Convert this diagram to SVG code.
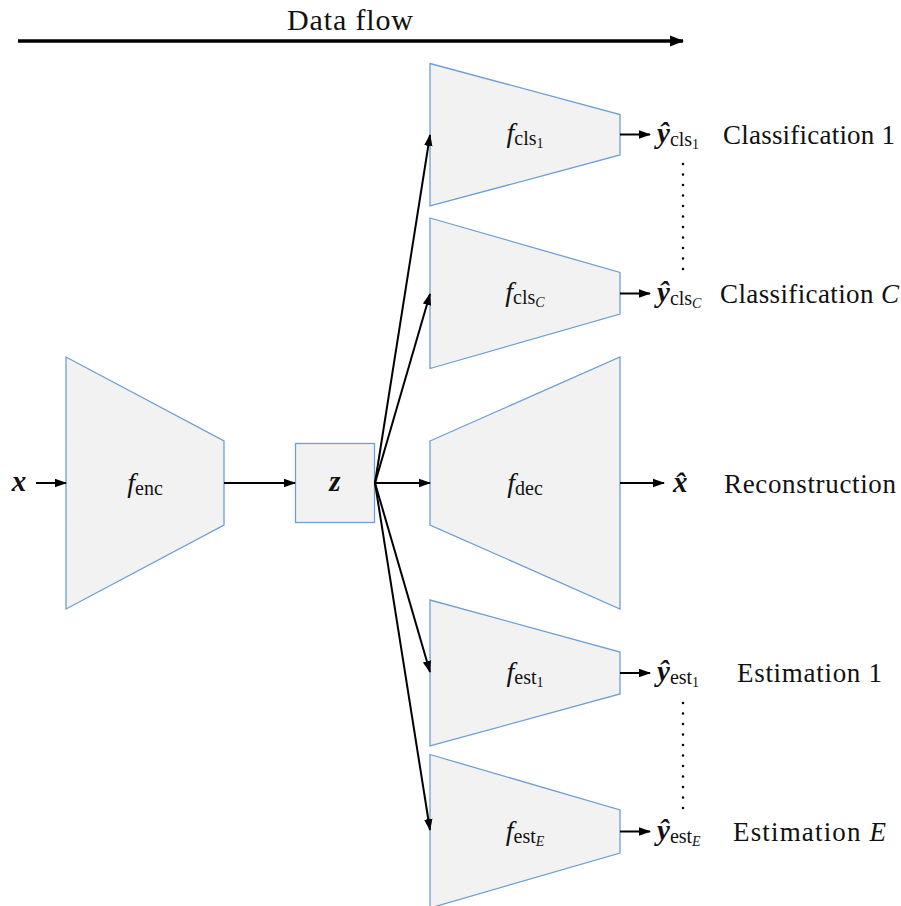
<svg xmlns="http://www.w3.org/2000/svg" width="901" height="906" viewBox="0 0 901 906">
  <defs>
    <marker id="arrow" viewBox="0 0 12 10" refX="11" refY="5" markerWidth="12" markerHeight="10" markerUnits="userSpaceOnUse" orient="auto">
      <path d="M0,0.8 L12,5 L0,9.2 Z" fill="#000"/>
    </marker>
    <marker id="arrowBig" viewBox="0 0 14 12" refX="13" refY="6" markerWidth="14" markerHeight="12" markerUnits="userSpaceOnUse" orient="auto">
      <path d="M0,0.5 L14,6 L0,11.5 Z" fill="#000"/>
    </marker>
  </defs>
  <style>
    .block { fill: #f2f2f2; stroke: #6f9fd3; stroke-width: 1.3; }
    .conn { stroke: #000; stroke-width: 2; fill: none; marker-end: url(#arrow); }
    .dots { stroke: #000; stroke-width: 2.6; stroke-linecap: round; stroke-dasharray: 0 10.5; fill: none; }
    text { font-family: "Liberation Serif", "Times New Roman", serif; fill: #111; }
    .rm { font-size: 27px; }
    .mi { font-style: italic; font-size: 28px; }
    .bi { font-style: italic; font-weight: bold; font-size: 29px; }
    .s1 { font-style: normal; font-weight: normal; font-size: 20px; }
    .s2 { font-style: normal; font-weight: normal; font-size: 14px; }
    .s2i { font-style: italic; font-weight: normal; font-size: 14px; }
  </style>

  <!-- direction of data flow -->
  <g id="dataflow">
    <text x="287" y="30" style="font-size:30px" textLength="126">Data flow</text>
    <line x1="18" y1="41" x2="683" y2="41" stroke="#000" stroke-width="3.4" marker-end="url(#arrowBig)"/>
  </g>

  <!-- input -->
  <g id="input">
    <text class="bi" x="19" y="491" text-anchor="middle">x</text>
  </g>

  <!-- encoder -->
  <g id="enc">
    <polygon class="block" points="66,357 224,441 224,525 66,609"/>
    <text class="mi" x="145" y="492" text-anchor="middle">f<tspan class="s1" dy="3">enc</tspan></text>
  </g>

  <!-- latent code -->
  <g id="latent">
    <rect class="block" x="295.5" y="443.5" width="79" height="79"/>
    <text class="bi" x="335" y="491" text-anchor="middle">z</text>
  </g>

  <!-- classification heads -->
  <g id="cls1">
    <polygon class="block" points="430,63.5 620,114.5 620,155 430,206"/>
    <text class="mi" x="525" y="142" text-anchor="middle">f<tspan class="s1" dy="3">cls</tspan><tspan class="s2" dy="3">1</tspan></text>
  </g>
  <g id="clsC">
    <polygon class="block" points="430,218 620,272.5 620,314 430,368.5"/>
    <text class="mi" x="525" y="301" text-anchor="middle">f<tspan class="s1" dy="3">cls</tspan><tspan class="s2i" dy="3">C</tspan></text>
  </g>

  <!-- decoder -->
  <g id="dec">
    <polygon class="block" points="430,441 620,357 620,609 430,525"/>
    <text class="mi" x="525" y="492" text-anchor="middle">f<tspan class="s1" dy="3">dec</tspan></text>
  </g>

  <!-- estimation heads -->
  <g id="est1">
    <polygon class="block" points="430,600 620,652 620,694 430,746"/>
    <text class="mi" x="525" y="681" text-anchor="middle">f<tspan class="s1" dy="3">est</tspan><tspan class="s2" dy="3">1</tspan></text>
  </g>
  <g id="estE">
    <polygon class="block" points="430,754.5 620,810 620,853 430,908"/>
    <text class="mi" x="525" y="840" text-anchor="middle">f<tspan class="s1" dy="3">est</tspan><tspan class="s2i" dy="3">E</tspan></text>
  </g>

  <!-- outputs -->
  <g id="out-cls1">
    <text class="bi" x="657" y="143">ŷ<tspan class="s1" dy="3">cls</tspan><tspan class="s2" dy="3">1</tspan></text>
    <text class="rm" x="723" y="144" textLength="172">Classification 1</text>
  </g>
  <g id="out-clsC">
    <text class="bi" x="657" y="302">ŷ<tspan class="s1" dy="3">cls</tspan><tspan class="s2i" dy="3">C</tspan></text>
    <text class="rm" x="720" y="303" textLength="179">Classification <tspan font-style="italic">C</tspan></text>
  </g>
  <g id="out-dec">
    <text class="bi" x="673" y="492">x̂</text>
    <text class="rm" x="724" y="493" textLength="172">Reconstruction</text>
  </g>
  <g id="out-est1">
    <text class="bi" x="657" y="681">ŷ<tspan class="s1" dy="3">est</tspan><tspan class="s2" dy="3">1</tspan></text>
    <text class="rm" x="737" y="682" textLength="145">Estimation 1</text>
  </g>
  <g id="out-estE">
    <text class="bi" x="657" y="840">ŷ<tspan class="s1" dy="3">est</tspan><tspan class="s2i" dy="3">E</tspan></text>
    <text class="rm" x="733" y="841" textLength="153">Estimation <tspan font-style="italic">E</tspan></text>
  </g>

  <!-- connectors -->
  <g id="connectors">
    <line class="conn" x1="36" y1="483" x2="66" y2="483"/>
    <line class="conn" x1="224" y1="483" x2="295" y2="483"/>
    <line class="conn" x1="375" y1="483" x2="430" y2="135"/>
    <line class="conn" x1="375" y1="483" x2="430" y2="294"/>
    <line class="conn" x1="375" y1="483" x2="430" y2="483"/>
    <line class="conn" x1="375" y1="483" x2="430" y2="672"/>
    <line class="conn" x1="375" y1="483" x2="430" y2="830"/>
    <line class="conn" x1="620" y1="134.5" x2="650" y2="134.5"/>
    <line class="conn" x1="620" y1="293.5" x2="650" y2="293.5"/>
    <line class="conn" x1="620" y1="483" x2="664" y2="483"/>
    <line class="conn" x1="620" y1="673" x2="650" y2="673"/>
    <line class="conn" x1="620" y1="831.5" x2="650" y2="831.5"/>
    <line class="dots" x1="683" y1="164" x2="683" y2="270"/>
    <line class="dots" x1="683" y1="703" x2="683" y2="809"/>
  </g>
</svg>
